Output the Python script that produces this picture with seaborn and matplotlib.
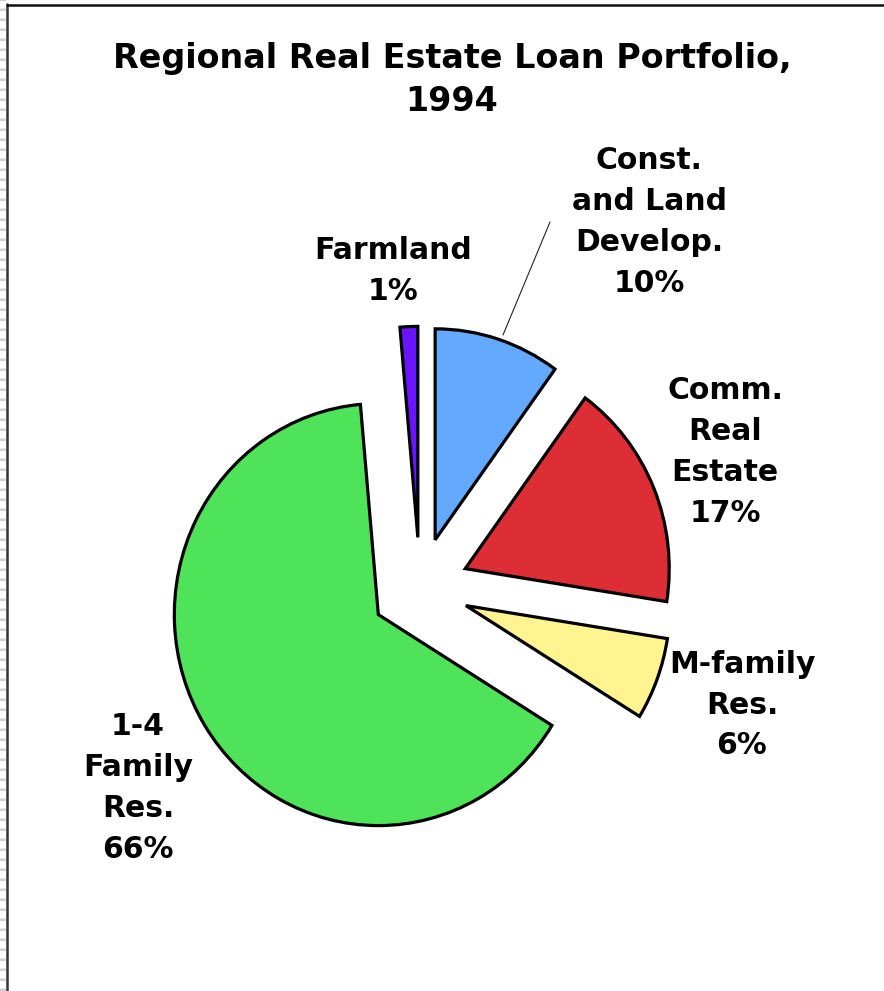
import matplotlib
matplotlib.use("Agg")
import matplotlib.pyplot as plt
import seaborn as sns
from matplotlib.lines import Line2D

# slices, clockwise from 12 o'clock
categories = ["Const.\nand Land\nDevelop.", "Comm.\nReal\nEstate", "M-family\nRes.",
              "1-4\nFamily\nRes.", "Farmland"]
shares = [10.0, 17.5, 6.3, 64.8, 1.4]
pct_labels = ["10%", "17%", "6%", "66%", "1%"]
colors = ["#63AAFF", "#DD2E35", "#FFF48F", "#4FE35A", "#6A14FF"]

W, H = 884, 991

sns.set_style("white")
plt.rcParams['font.family'] = ['DejaVu Sans']
plt.rcParams['text.color'] = 'black'

fig = plt.figure(figsize=(W / 100, H / 100), dpi=100)
ax = fig.add_axes([0, 0, 1, 1])

ax.pie(shares, colors=colors, startangle=90, counterclock=False,
       explode=[0.24] * len(shares),
       wedgeprops=dict(edgecolor="black", linewidth=2.3))

# pie centre at pixel (420, 588), radius ~204 px wide x 211 px tall
cx, cy, rx, ry = 420, 588, 204, 211
ax.set_aspect("auto")
ax.set_xlim(-cx / rx, (W - cx) / rx)
ax.set_ylim((cy - H) / ry, cy / ry)
ax.axis("off")


def px(x, y):
    return x / W, 1 - y / H


# label positions (pixel centres)
label_pos = [(649, 222), (725, 452), (742, 705), (138, 788), (393, 271)]
for name, pct, (x, y) in zip(categories, pct_labels, label_pos):
    fig.text(*px(x, y), f"{name}\n{pct}", ha="center", va="center",
             fontsize=21.5, fontweight="bold", linespacing=1.52, color="black")

# leader line for the construction slice
x0, y0 = px(503, 335)
x1, y1 = px(550, 222)
fig.add_artist(Line2D([x0, x1], [y0, y1], color="#222222", lw=0.8))

fig.text(*px(452, 80), "Regional Real Estate Loan Portfolio,\n1994",
         ha="center", va="center", fontsize=24, fontweight="bold",
         linespacing=1.42, color="black")

# frame: top and left border, dotted strip at the far left
fig.add_artist(Line2D([px(7.5, 0)[0]] * 2, [0, px(0, 4)[1]], color="#333333", lw=1.8))
fig.add_artist(Line2D([px(7, 0)[0], 1], [px(0, 4.5)[1]] * 2, color="#111111", lw=1.8))
fig.add_artist(Line2D([px(3, 0)[0]] * 2, [0, 1], color="#cfcfcf", lw=4.5,
                      linestyle=(0, (0.4, 1.2))))

fig.savefig("out.png", dpi=100)
